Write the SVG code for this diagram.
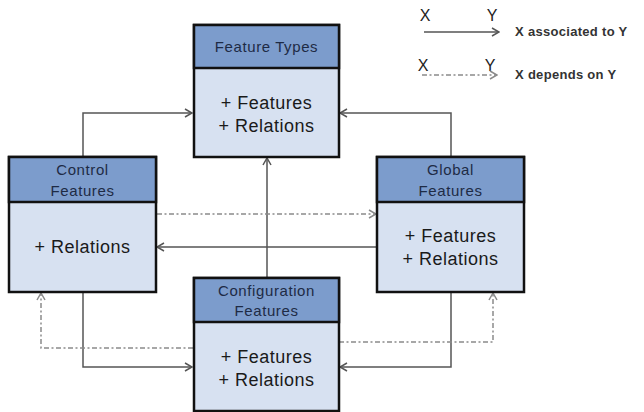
<svg xmlns="http://www.w3.org/2000/svg" width="644" height="412" viewBox="0 0 644 412">
<defs>
<style>
.hdr{fill:#7C9CCC;stroke:#111;stroke-width:2.5}
.body{fill:#D7E1F1;stroke:#111;stroke-width:2.5}
.ht{font-family:"Liberation Sans",Arial,sans-serif;font-size:15px;fill:#1E2B45;text-anchor:middle;letter-spacing:0.6px}
.bt{font-family:"Liberation Sans",Arial,sans-serif;font-size:18px;fill:#1A1A1A;text-anchor:middle;letter-spacing:0.5px}
.assoc{fill:none;stroke:#555;stroke-width:1.5}
.dep{fill:none;stroke:#8A8A8A;stroke-width:1.5;stroke-dasharray:5 2.5 2 2.5}
.lg{font-family:"Liberation Sans",Arial,sans-serif;font-size:13px;fill:#333;font-weight:bold;letter-spacing:0.3px}
.xy{font-family:"Liberation Sans",Arial,sans-serif;font-size:16px;fill:#222}
</style>
<marker id="aA" markerUnits="userSpaceOnUse" markerWidth="10" markerHeight="10" viewBox="0 0 10 10" refX="9" refY="5" orient="auto">
<path d="M2,1 L9,5 L2,9" fill="none" stroke="#555" stroke-width="1.5"/>
</marker>
<marker id="aD" markerUnits="userSpaceOnUse" markerWidth="10" markerHeight="10" viewBox="0 0 10 10" refX="9" refY="5" orient="auto">
<path d="M2,1 L9,5 L2,9" fill="none" stroke="#8A8A8A" stroke-width="1.5"/>
</marker>
</defs>
<rect width="644" height="412" fill="#fff"/>

<g id="connectors">
<path class="assoc" d="M83,157 V113 H192" marker-end="url(#aA)"/>
<path class="assoc" d="M451,157 V113 H340" marker-end="url(#aA)"/>
<path class="assoc" d="M267,278 V158" marker-end="url(#aA)"/>
<path class="assoc" d="M377,247 H157" marker-end="url(#aA)"/>
<path class="dep" d="M157,214 H376" marker-end="url(#aD)"/>
<path class="assoc" d="M83,292 V367 H192" marker-end="url(#aA)"/>
<path class="dep" d="M193,348 H41 V293" marker-end="url(#aD)"/>
<path class="assoc" d="M451,292 V367 H340" marker-end="url(#aA)"/>
<path class="dep" d="M339,342 H493 V293" marker-end="url(#aD)"/>
</g>

<g id="feature-types">
<rect class="body" x="194" y="25" width="145" height="132"/>
<rect class="hdr" x="194" y="25" width="145" height="43"/>
<text class="ht" x="266.5" y="52">Feature Types</text>
<text class="bt" x="266.5" y="109">+ Features</text>
<text class="bt" x="266.5" y="132">+ Relations</text>
</g>

<g id="control-features">
<rect class="body" x="9" y="157" width="147" height="135"/>
<rect class="hdr" x="9" y="157" width="147" height="45"/>
<text class="ht" x="82.5" y="175">Control</text>
<text class="ht" x="82.5" y="196">Features</text>
<text class="bt" x="82.5" y="253">+ Relations</text>
</g>

<g id="global-features">
<rect class="body" x="377" y="157" width="147" height="135"/>
<rect class="hdr" x="377" y="157" width="147" height="45"/>
<text class="ht" x="450.5" y="175">Global</text>
<text class="ht" x="450.5" y="196">Features</text>
<text class="bt" x="450.5" y="242">+ Features</text>
<text class="bt" x="450.5" y="265">+ Relations</text>
</g>

<g id="configuration-features">
<rect class="body" x="194" y="278" width="145" height="133"/>
<rect class="hdr" x="194" y="278" width="145" height="44"/>
<text class="ht" x="266.5" y="296">Configuration</text>
<text class="ht" x="266.5" y="316">Features</text>
<text class="bt" x="266.5" y="363">+ Features</text>
<text class="bt" x="266.5" y="386">+ Relations</text>
</g>

<g id="legend">
<text class="xy" x="425" y="21" text-anchor="middle">X</text>
<text class="xy" x="492" y="21" text-anchor="middle">Y</text>
<path class="assoc" d="M424,32 H499" marker-end="url(#aA)"/>
<text class="lg" x="515" y="36">X  associated to Y</text>
<text class="xy" x="423" y="71" text-anchor="middle">X</text>
<text class="xy" x="490" y="71" text-anchor="middle">Y</text>
<path class="dep" d="M422,75 H497" marker-end="url(#aD)"/>
<text class="lg" x="515" y="79">X  depends on Y</text>
</g>
</svg>
